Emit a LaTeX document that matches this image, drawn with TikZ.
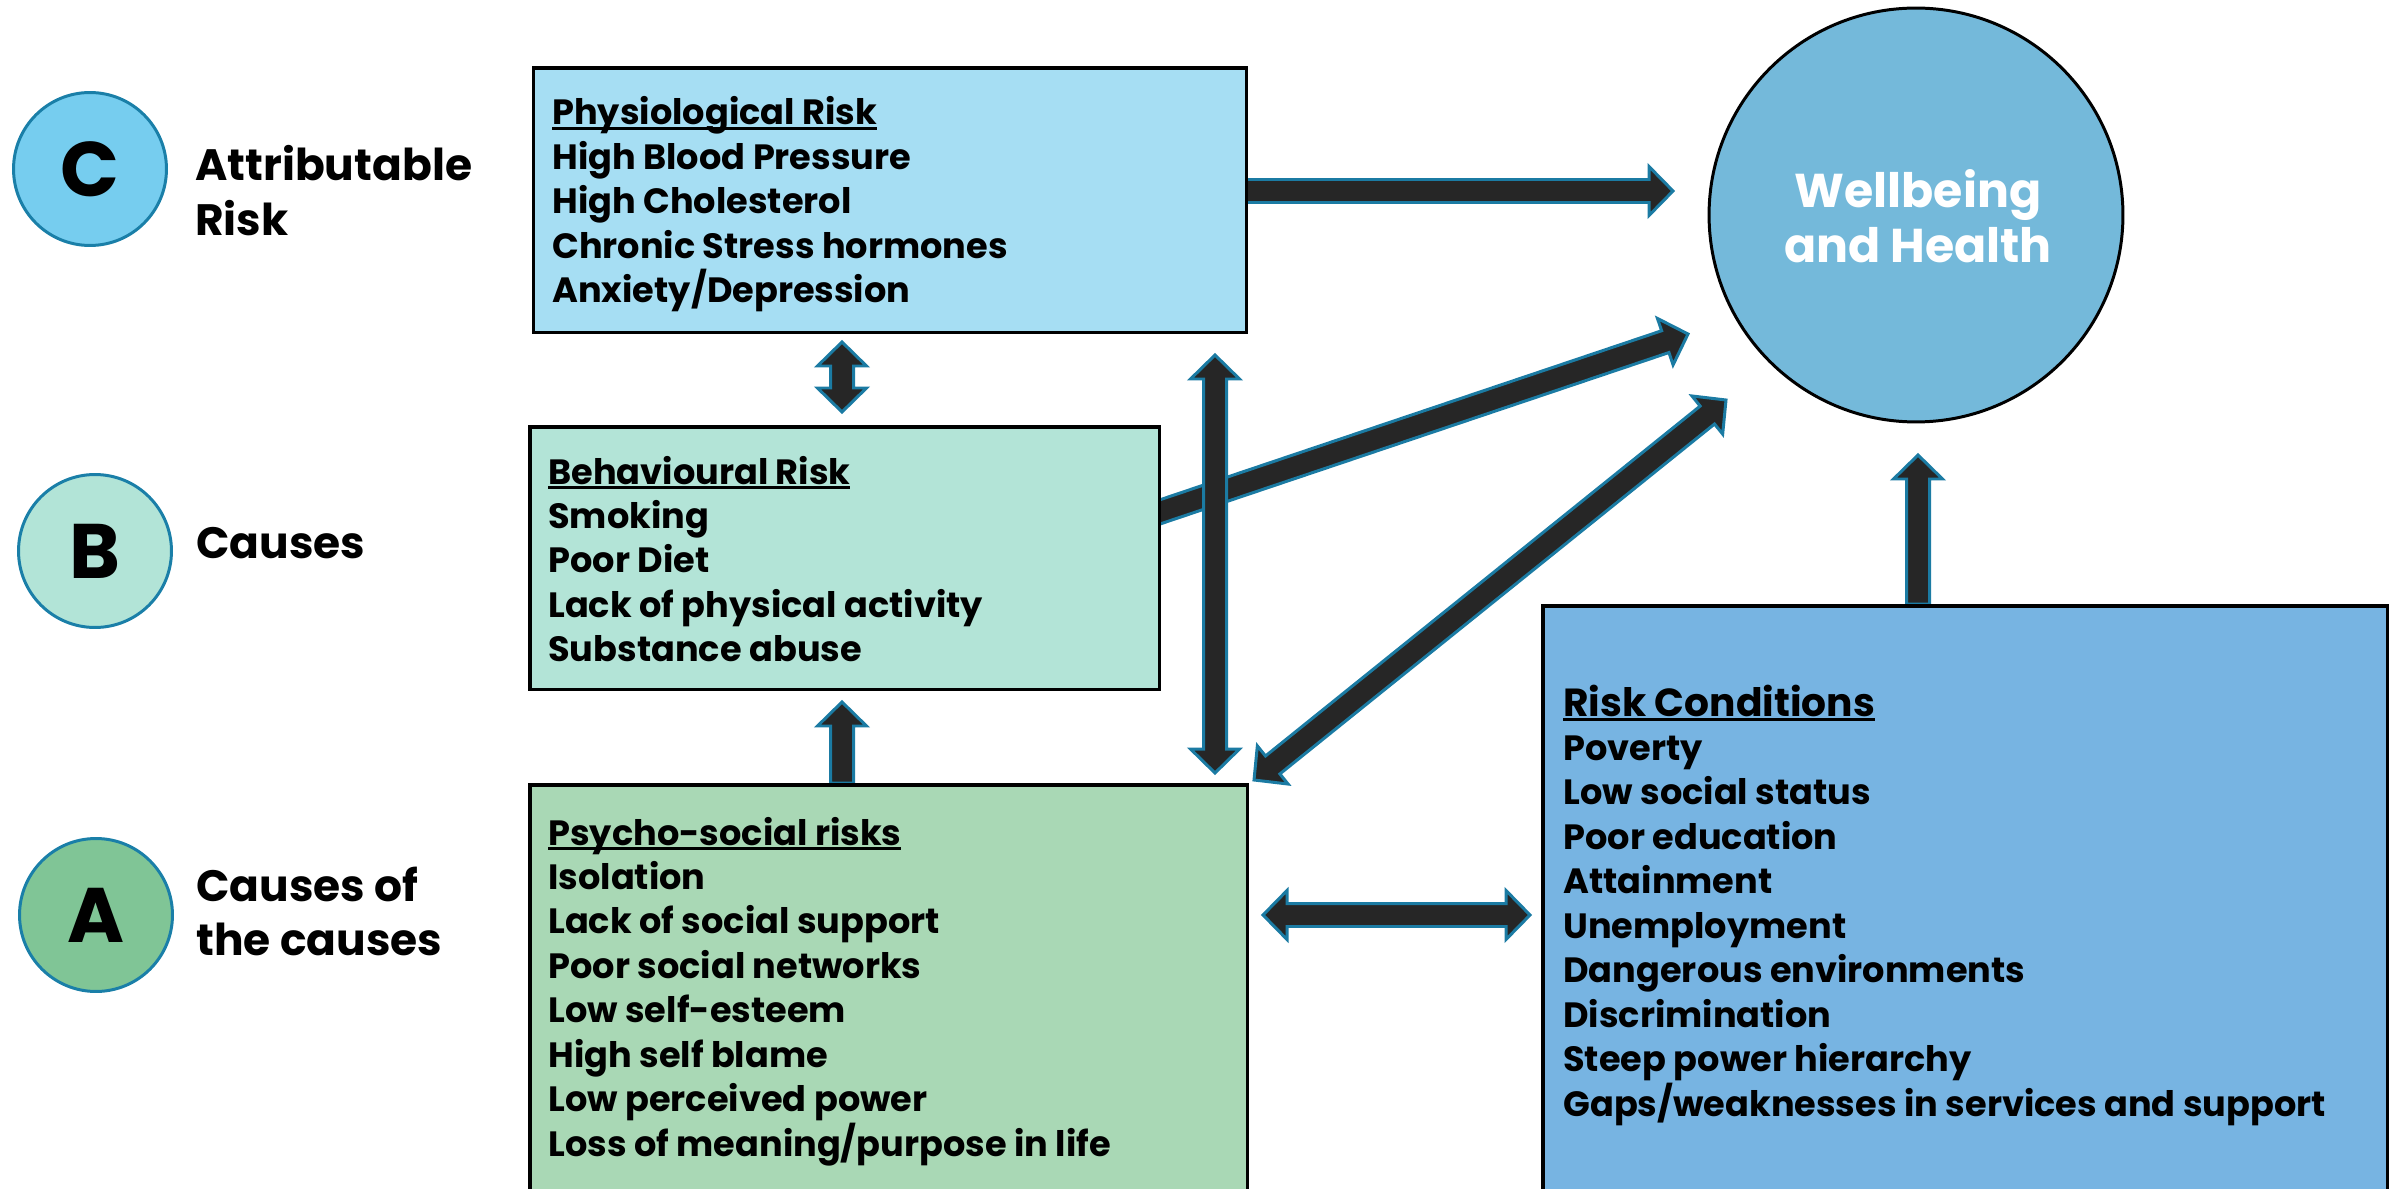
\documentclass[tikz,border=0pt]{standalone}
\usepackage{fontspec}
\setmainfont{Poppins}
\usetikzlibrary{calc,backgrounds}
\definecolor{cfill}{HTML}{76CDEF}
\definecolor{bfill}{HTML}{B2E4D7}
\definecolor{afill}{HTML}{80C596}
\definecolor{ringblue}{HTML}{1A7FA8}
\definecolor{physfill}{HTML}{A6DEF3}
\definecolor{behavfill}{HTML}{B3E4D7}
\definecolor{psyfill}{HTML}{A9D8B5}
\definecolor{riskfill}{HTML}{77B4E2}
\definecolor{wbfill}{HTML}{74B9DA}
\definecolor{arrdark}{HTML}{262626}
\definecolor{arrblue}{HTML}{1B7BA3}
\newcommand\txtline[1]{\hbox{#1}}
\newcommand\ulhead[1]{\setbox0=\hbox{#1}\hbox{\rlap{\rule[-2.9pt]{\wd0}{1.7pt}}\box0}}
\newcommand\sarrow[2]{%
  \coordinate (q1) at ($(#2)!0.48cm!(#1)$);
  \path[barrow] ($(#1)!0.23cm!90:(#2)$) -- ($(q1)!0.23cm!90:(#2)$) -- ($(q1)!0.49cm!90:(#2)$) -- (#2)
    -- ($(q1)!0.49cm!-90:(#2)$) -- ($(q1)!0.23cm!-90:(#2)$) -- ($(#1)!0.23cm!-90:(#2)$) -- cycle;}
\newcommand\darrow[2]{%
  \coordinate (q0) at ($(#1)!0.48cm!(#2)$);
  \coordinate (q1) at ($(#2)!0.48cm!(#1)$);
  \path[barrow] ($(q0)!0.23cm!90:(#2)$) -- ($(q1)!0.23cm!90:(#2)$) -- ($(q1)!0.49cm!90:(#2)$) -- (#2)
    -- ($(q1)!0.49cm!-90:(#2)$) -- ($(q1)!0.23cm!-90:(#2)$) -- ($(q0)!0.23cm!-90:(#2)$)
    -- ($(q0)!0.49cm!-90:(#2)$) -- (#1) -- ($(q0)!0.49cm!90:(#2)$) -- cycle;}
\tikzset{
  barrow/.style={fill=arrdark, draw=arrblue, line width=1.7pt, line join=miter},
  box/.style={draw=black, line width=2pt, anchor=north west, inner sep=0pt},
  boxtext/.style={anchor=base west, inner sep=0pt, font=\fontsize{20}{25.3}\selectfont\bfseries},
  lbl/.style={anchor=base west, inner sep=0pt, font=\fontsize{25}{31.3}\selectfont\bfseries},
  letter/.style={circle, draw=ringblue, line width=1.7pt, minimum size=3.06cm, inner sep=0pt,
    font=\fontsize{44}{50}\selectfont\bfseries},
}
\begin{document}
\begin{tikzpicture}[x=0.02cm,y=-0.02cm]
\useasboundingbox (0,0) rectangle (2397,1189);
\clip (0,0) rectangle (2397,1189);
% level circles and labels
\node[letter, fill=cfill] (cC) at (90,169) {C};
\node[letter, fill=bfill] (cB) at (95,551) {B};
\node[letter, fill=afill] (cA) at (96,915) {A};
\node[lbl] (lC) at (195,181) {\vtop{\txtline{Attributable}\txtline{Risk}}};
\node[lbl] (lB) at (196,558) {Causes};
\node[lbl] (lA) at (196,901) {\vtop{\txtline{Causes of}\txtline{the causes}}};
% boxes
\node[box, fill=physfill, minimum width=14.27cm, minimum height=5.3cm] (phys) at (531.5,66) {};
\node[box, fill=behavfill, minimum width=12.6cm, minimum height=5.26cm] (behav) at (528,425) {};
\node[box, fill=psyfill, minimum width=14.36cm, minimum height=8.5cm] (psy) at (528,783) {};
\node[box, fill=riskfill, minimum width=16.9cm, minimum height=12cm] (risk) at (1541,604) {};
\node[circle, draw=black, line width=1.7pt, fill=wbfill, minimum size=8.28cm, inner sep=0pt] (wb) at (1916,215) {};
% texts
\node[boxtext] (physT) at (552,125) {\vtop{\txtline{\ulhead{Physiological Risk}}\txtline{High Blood Pressure}\txtline{High Cholesterol}\txtline{Chronic Stress hormones}\txtline{Anxiety/Depression}}};
\node[boxtext] (behavT) at (548,484) {\vtop{\txtline{\ulhead{Behavioural Risk}}\txtline{Smoking}\txtline{Poor Diet}\txtline{Lack of physical activity}\txtline{Substance abuse}}};
\node[boxtext] (psyT) at (548,845) {\vtop{\txtline{\ulhead{Psycho-social risks}}\txtline{Isolation}\txtline{Lack of social support}\txtline{Poor social networks}\txtline{Low self-esteem}\txtline{High self blame}\txtline{Low perceived power}\txtline{Loss of meaning/purpose in life}}};
\node[boxtext] (riskT) at (1563,716) {\vtop{\txtline{\fontsize{22.3}{25.3}\selectfont\ulhead{Risk Conditions}}\txtline{Poverty}\txtline{Low social status}\txtline{Poor education}\txtline{Attainment}\txtline{Unemployment}\txtline{Dangerous environments}\txtline{Discrimination}\txtline{Steep power hierarchy}\txtline{Gaps/weaknesses in services and support}}};
\node[anchor=base, inner sep=0pt, text=white, font=\fontsize{27}{31.3}\selectfont\bfseries] (wbT) at (1918,208)
  {\vtop{\hbox to 0pt{\hss Wellbeing\hss}\hbox to 0pt{\hss and Health\hss}}};
% arrows
\begin{scope}[on background layer]
\coordinate (a1s) at (1245,191); \coordinate (a1e) at (1673,191);
\coordinate (a2s) at (842,342);  \coordinate (a2e) at (842,412);
\coordinate (a3s) at (842,783);  \coordinate (a3e) at (842,702);
\coordinate (a4s) at (1215,355); \coordinate (a4e) at (1215,773);
\coordinate (a5s) at (1130,522); \coordinate (a5e) at (1688,334);
\coordinate (a6s) at (1254,780); \coordinate (a6e) at (1726,400);
\coordinate (a7s) at (1263,915); \coordinate (a7e) at (1530,915);
\coordinate (a8s) at (1918,604); \coordinate (a8e) at (1918,455);
\sarrow{a5s}{a5e}
\sarrow{a1s}{a1e}
\darrow{a2s}{a2e}
\sarrow{a3s}{a3e}
\darrow{a4s}{a4e}
\darrow{a6s}{a6e}
\darrow{a7s}{a7e}
\sarrow{a8s}{a8e}
\end{scope}
\end{tikzpicture}
\end{document}
